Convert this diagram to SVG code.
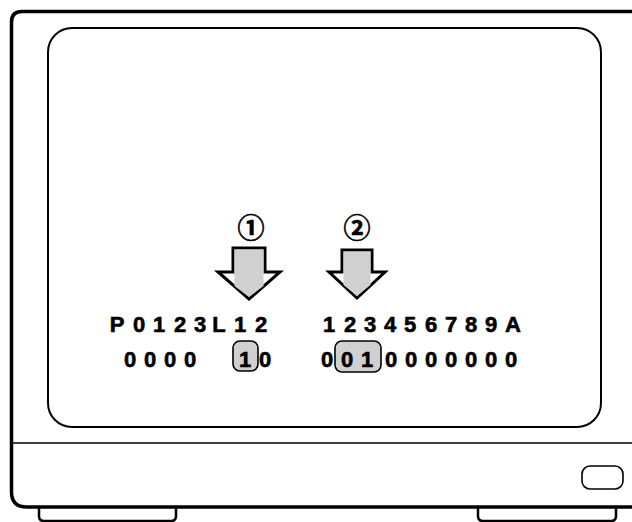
<svg xmlns="http://www.w3.org/2000/svg" width="632" height="522" viewBox="0 0 632 522">
<style>
.ln{fill:none;stroke:#000;stroke-linecap:round;stroke-linejoin:round}
.txt{font-family:"Liberation Sans",Arial,sans-serif;font-weight:bold;font-size:22px;fill:#000;stroke:#000;stroke-width:0.6;text-anchor:middle}
.circ{font-family:"Noto Sans CJK JP","DejaVu Sans",sans-serif;font-weight:bold;font-size:27px;fill:#000;stroke:#000;stroke-width:0.6;text-anchor:middle}
.hl{fill:#d0d0d0;stroke:#000;stroke-width:1.6}
.arr{fill:#fff;stroke:#000;stroke-width:3;stroke-linejoin:miter}
.arrin{fill:#d0d0d0;stroke:none}
</style>
<rect width="632" height="522" fill="#fff"/>
<g id="monitor">
  <path class="ln" d="M640 11.5 H22 Q11.5 11.5 11.5 22 V492 Q11.5 507 27 507 H640" stroke-width="3.5"/>
  <path class="ln" d="M12 443 H632" stroke-width="1.6"/>
  <path class="ln" d="M39 508 V516 Q39 521 44 521 H171 Q176 521 176 516 V508" stroke-width="2.5"/>
  <path class="ln" d="M478 508 V516 Q478 521 483 521 H611 Q616 521 616 516 V508" stroke-width="2.5"/>
  <rect class="ln" x="582" y="466" width="41" height="23" rx="8" stroke-width="1.6"/>
</g>
<g id="screen">
  <rect class="ln" x="48" y="28" width="553" height="399" rx="24" stroke-width="2"/>
</g>
<g id="highlights">
  <rect class="hl" x="233" y="341" width="25" height="30" rx="7"/>
  <rect class="hl" x="335" y="341" width="46" height="31" rx="7"/>
</g>
<g id="arrow1">
  <polygon class="arr" points="233,248 265,248 265,272 280,272 249,299 218,272 233,272"/>
  <polygon class="arrin" points="234.5,249.5 263.5,249.5 263.5,286 249,297 234.5,286"/>
  <text class="circ" x="251" y="238">①</text>
</g>
<g id="arrow2">
  <polygon class="arr" points="342,250 372,250 372,272 385,272 357,298 329,272 342,272"/>
  <polygon class="arrin" points="343.5,251.5 370.5,251.5 370.5,285 357,296 343.5,285"/>
  <text class="circ" x="357" y="238">②</text>
</g>
<g id="labels">
  <text class="txt" x="117 139 159 180 200 219 240 261" y="332">P0123L12</text>
  <text class="txt" x="329 350 370 390 410 431 451 471 491 513" y="332">123456789A</text>
  <text class="txt" x="130 150 170 190" y="367">0000</text>
  <text class="txt" x="245 265" y="367">10</text>
  <text class="txt" x="327 347 367 391 411 431 451 471 491 511" y="367">0010000000</text>
</g>
</svg>
